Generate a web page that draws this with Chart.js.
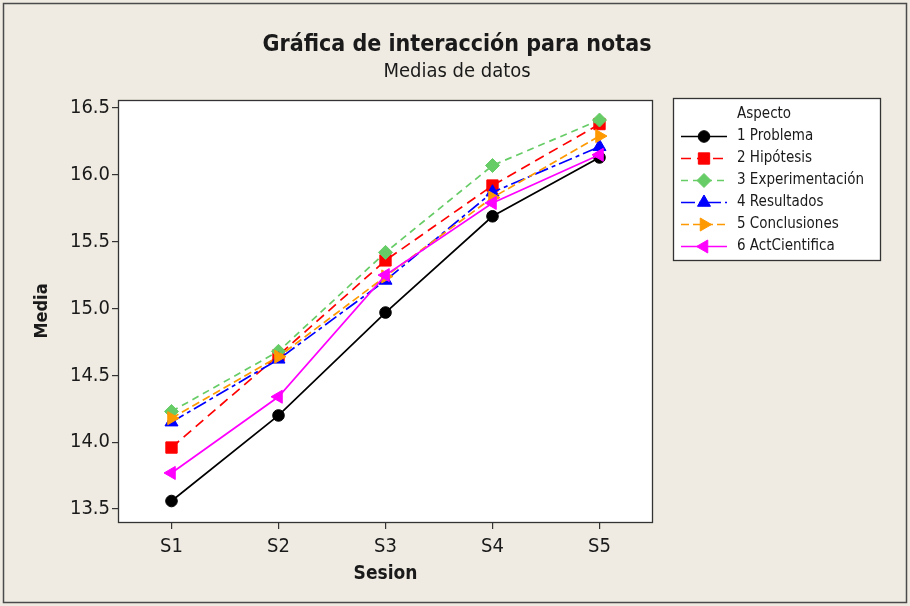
<!DOCTYPE html>
<html>
<head>
<meta charset="utf-8">
<script src="https://cdn.jsdelivr.net/npm/chart.js@4"></script>
<style>
  html, body { margin: 0; padding: 0; background: #efebe2; }
  #wrap { width: 910px; height: 606px; }
</style>
</head>
<body>
<div id="wrap"><canvas id="c" width="910" height="606"></canvas></div>
<script>
// Sessions on the x axis
const sesiones = ['S1', 'S2', 'S3', 'S4', 'S5'];

// Mean grade per session for each aspect
const problema        = [13.56, 14.20, 14.97, 15.69, 16.13];
const hipotesis       = [13.96, 14.65, 15.36, 15.92, 16.38];
const experimentacion = [14.23, 14.68, 15.42, 16.07, 16.41];
const resultados      = [14.15, 14.62, 15.21, 15.87, 16.21];
const conclusiones    = [14.18, 14.64, 15.24, 15.83, 16.29];
const actCientifica   = [13.77, 14.34, 15.25, 15.79, 16.15];

// Series names
const aspectos = ['1 Problema', '2 Hipótesis', '3 Experimentación', '4 Resultados', '5 Conclusiones', '6 ActCientifica'];

// Y axis tick values
const mediaTicks = [13.5, 14.0, 14.5, 15.0, 15.5, 16.0, 16.5];

const FONT = '"DejaVu Sans Condensed", "DejaVu Sans", sans-serif';
const TEXT = '#1a1a1a';
const FRAME = '#333333';

const styles = [
  { color: '#000000', pointStyle: 'circle',   radius: 5.8, rotation: 0,   dash: [] },
  { color: '#ff0000', pointStyle: 'rect',     radius: 8.0, rotation: 0,   dash: [10, 6] },
  { color: '#66cc66', pointStyle: 'rectRot',  radius: 7.0, rotation: 0,   dash: [7, 5] },
  { color: '#0000ff', pointStyle: 'triangle', radius: 7.5, rotation: 0,   dash: [14, 4, 4, 4] },
  { color: '#ff9900', pointStyle: 'triangle', radius: 7.5, rotation: 90,  dash: [8, 4] },
  { color: '#ff00ff', pointStyle: 'triangle', radius: 7.5, rotation: -90, dash: [] }
];
const series = [problema, hipotesis, experimentacion, resultados, conclusiones, actCientifica];

const datasets = series.map((vals, i) => ({
  label: aspectos[i],
  data: vals,
  borderColor: styles[i].color,
  backgroundColor: styles[i].color,
  pointBackgroundColor: styles[i].color,
  pointBorderColor: styles[i].color,
  borderWidth: 1.7,
  borderDash: styles[i].dash,
  pointStyle: styles[i].pointStyle,
  pointRadius: styles[i].radius,
  pointRotation: styles[i].rotation,
  pointBorderWidth: 1,
  tension: 0,
  fill: false,
  order: series.length - i   // later aspects drawn on top
}));

// Background, frames, titles and the aspect legend
const decor = {
  id: 'decor',
  beforeDraw(chart) {
    const { ctx, chartArea: a } = chart;
    ctx.save();
    ctx.fillStyle = '#efebe2';
    ctx.fillRect(0, 0, chart.width, chart.height);
    ctx.strokeStyle = '#4a4a4a';
    ctx.lineWidth = 1.5;
    ctx.strokeRect(3.5, 3.5, chart.width - 7, chart.height - 7);
    ctx.fillStyle = '#ffffff';
    ctx.fillRect(a.left, a.top, a.right - a.left, a.bottom - a.top);
    ctx.restore();
  },
  afterDraw(chart) {
    const { ctx, chartArea: a } = chart;
    ctx.save();
    // plot frame
    ctx.strokeStyle = FRAME;
    ctx.lineWidth = 1.3;
    ctx.strokeRect(a.left + 0.5, a.top + 0.5, a.right - a.left - 1, a.bottom - a.top);

    // titles
    ctx.fillStyle = TEXT;
    ctx.textAlign = 'center';
    ctx.textBaseline = 'middle';
    ctx.font = 'bold 23px ' + FONT;
    ctx.fillText('Gráfica de interacción para notas', 457, 45);
    ctx.font = '20px ' + FONT;
    ctx.fillText('Medias de datos', 457, 72);

    // legend box
    const lx = 673, ly = 98, lw = 207, lh = 162;
    ctx.fillStyle = '#ffffff';
    ctx.fillRect(lx, ly, lw, lh);
    ctx.strokeStyle = FRAME;
    ctx.lineWidth = 1.3;
    ctx.strokeRect(lx + 0.5, ly + 0.5, lw, lh);

    ctx.fillStyle = TEXT;
    ctx.textAlign = 'left';
    ctx.font = '15px ' + FONT;
    ctx.fillText('Aspecto', 737, 114);

    chart.data.datasets.forEach((ds, i) => {
      const y = 136.5 + i * 22;
      ctx.save();
      ctx.strokeStyle = ds.borderColor;
      ctx.lineWidth = 1.7;
      ctx.setLineDash(ds.borderDash);
      ctx.beginPath();
      ctx.moveTo(681, y);
      ctx.lineTo(727, y);
      ctx.stroke();
      ctx.restore();
      ctx.save();
      ctx.fillStyle = ds.pointBackgroundColor;
      ctx.strokeStyle = ds.pointBorderColor;
      ctx.lineWidth = 1;
      Chart.helpers.drawPoint(ctx, {
        pointStyle: ds.pointStyle,
        radius: ds.pointRadius,
        rotation: ds.pointRotation,
        borderWidth: 1
      }, 704, y);
      ctx.restore();
      ctx.fillStyle = TEXT;
      ctx.font = '15px ' + FONT;
      ctx.textBaseline = 'middle';
      ctx.fillText(ds.label, 737, y);
    });
    ctx.restore();
  }
};

new Chart(document.getElementById('c'), {
  type: 'line',
  data: { labels: sesiones, datasets },
  plugins: [decor],
  options: {
    responsive: false,
    animation: false,
    events: [],
    layout: { padding: { top: 100, left: 32, right: 257, bottom: 21 } },
    plugins: {
      legend: { display: false },
      title: { display: false },
      tooltip: { enabled: false }
    },
    scales: {
      x: {
        type: 'category',
        offset: true,
        afterFit(scale) { scale.height = 63; },
        grid: { drawOnChartArea: false, drawTicks: true, tickLength: 7, tickColor: FRAME, lineWidth: 1.2 },
        border: { display: false },
        ticks: { color: TEXT, font: { family: FONT, size: 20 }, padding: 6, maxRotation: 0 },
        title: { display: true, text: 'Sesion', color: TEXT, font: { family: FONT, size: 19, weight: 'bold' }, padding: 0 }
      },
      y: {
        min: 13.403,
        max: 16.56,
        afterFit(scale) { scale.width = 86; },
        afterBuildTicks(scale) { scale.ticks = mediaTicks.map(v => ({ value: v })); },
        grid: { drawOnChartArea: false, drawTicks: true, tickLength: 6, tickColor: FRAME, lineWidth: 1.2 },
        border: { display: false },
        ticks: {
          color: TEXT,
          font: { family: FONT, size: 20 },
          padding: 2,
          callback: v => Number(v).toFixed(1)
        },
        title: { display: true, text: 'Media', color: TEXT, font: { family: FONT, size: 18, weight: 'bold' }, padding: 0 }
      }
    }
  }
});
</script>
</body>
</html>
